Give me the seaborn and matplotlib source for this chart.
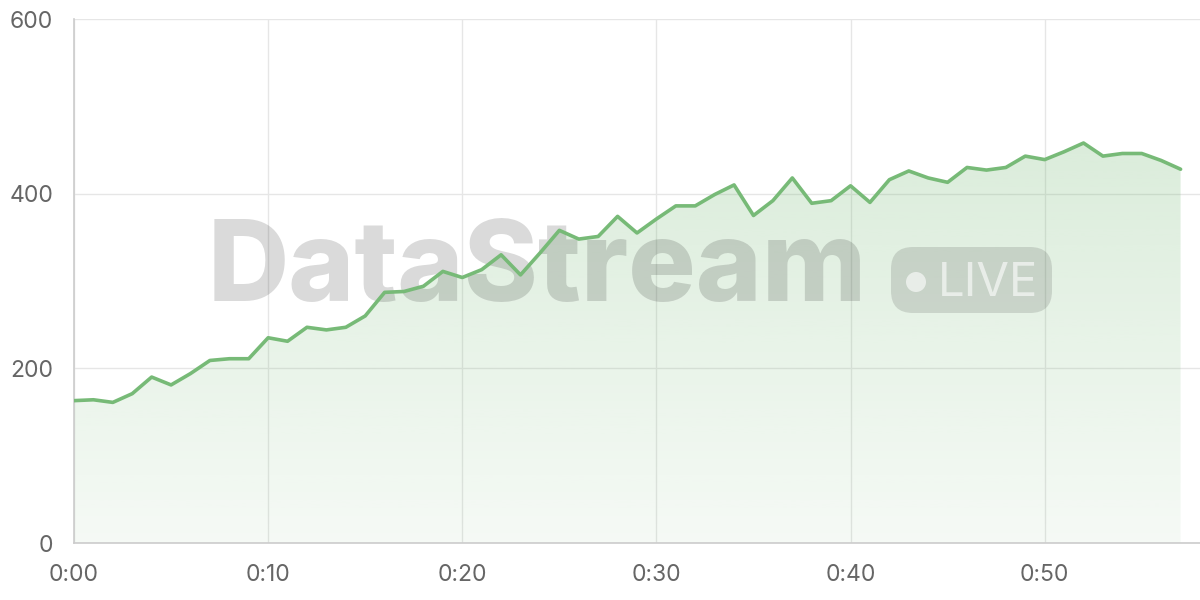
import numpy as np
import pandas as pd
import matplotlib
matplotlib.use("Agg")
import matplotlib.pyplot as plt
import seaborn as sns
from matplotlib.patches import FancyBboxPatch, Circle
from matplotlib.transforms import IdentityTransform

minutes = list(range(58))
values = [163, 164, 161, 171, 190, 181, 194, 209, 211, 211,
          235, 231, 247, 244, 247, 260, 287, 288, 294, 311,
          304, 313, 330, 307, 332, 358, 348, 351, 374, 355,
          371, 386, 386, 399, 410, 375, 392, 418, 389, 392,
          409, 390, 416, 426, 418, 413, 430, 427, 430, 443,
          439, 448, 458, 443, 446, 446, 438, 428]
tick_minutes = [0, 10, 20, 30, 40, 50]
tick_labels = ["0:00", "0:10", "0:20", "0:30", "0:40", "0:50"]
y_ticks = [0, 200, 400, 600]

df = pd.DataFrame({"minute": minutes, "value": values})

line_color = "#77ba77"
grid_color = "#e6e6e6"
axis_color = "#cccccc"

sns.set_style("white")
plt.rcParams["font.family"] = ["Inter", "DejaVu Sans"]

fig = plt.figure(figsize=(12, 6), dpi=100)
ax = fig.add_axes([74 / 1200, 57 / 600, 1126 / 1200, 524 / 600])
ax.set_xlim(0, 58)
ax.set_ylim(0, 600)

# gradient fill under the line
poly = ax.fill_between(df["minute"], df["value"], 0, facecolor="none", edgecolor="none")
grad = np.linspace(0.07, 0.26, 256).reshape(-1, 1)
rgba = np.zeros((256, 1, 4))
rgba[..., 0] = 116 / 255
rgba[..., 1] = 184 / 255
rgba[..., 2] = 116 / 255
rgba[..., 3] = grad
img = ax.imshow(rgba, extent=[0, 57, 0, max(values)], origin="lower",
                aspect="auto", zorder=2)
img.set_clip_path(poly.get_paths()[0], transform=ax.transData)

sns.lineplot(data=df, x="minute", y="value", ax=ax, color=line_color,
             linewidth=2.6, zorder=5)

ax.set_xticks(tick_minutes)
ax.set_xticklabels(tick_labels)
ax.set_yticks(y_ticks)
ax.set_xlabel("")
ax.set_ylabel("")
ax.grid(True, color=grid_color, linewidth=1)
ax.set_axisbelow(True)
ax.tick_params(axis="both", length=11, width=1, color=grid_color,
               labelsize=16.5, labelcolor="#666666", pad=4)
for side in ["top", "right"]:
    ax.spines[side].set_visible(False)
for side in ["left", "bottom"]:
    ax.spines[side].set_color(axis_color)
    ax.spines[side].set_linewidth(1.2)

# watermark, kept under the line
ax.text(537 / 1200, 1 - 271 / 600, "DataStream", transform=fig.transFigure,
        fontsize=81, fontweight="heavy", color="black", alpha=0.145,
        ha="center", va="center", zorder=3, clip_on=False)
badge = FancyBboxPatch((891, 287), 161, 66, boxstyle="round,pad=0,rounding_size=22",
                       transform=IdentityTransform(), facecolor="black",
                       edgecolor="none", alpha=0.12, zorder=3, clip_on=False)
ax.add_artist(badge)
dot = Circle((916, 318), 10, transform=IdentityTransform(), facecolor="white",
             edgecolor="none", alpha=0.6, zorder=4, clip_on=False)
ax.add_artist(dot)
ax.text(938 / 1200, 1 - 296 / 600, "LIVE", transform=fig.transFigure,
        fontsize=34, color="white", alpha=0.6, ha="left", va="baseline",
        zorder=4, clip_on=False)

fig.savefig("out.png", dpi=100)
